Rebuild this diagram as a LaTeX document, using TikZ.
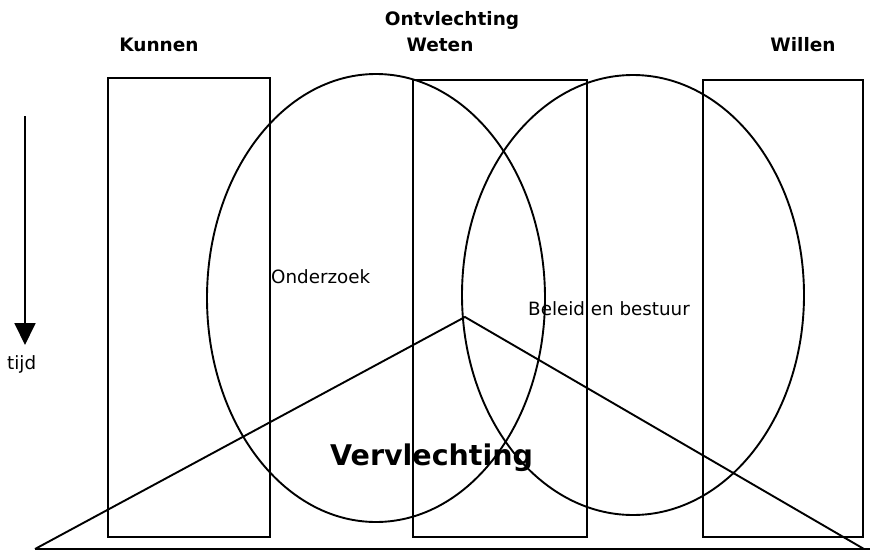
\documentclass[tikz,border=0pt]{standalone}
\usepackage{fontspec}
\setmainfont{DejaVu Sans}
\usetikzlibrary{arrows.meta}
\begin{document}
\begin{tikzpicture}[x=1pt,y=-1pt,
  shape line/.style={draw=black,line width=1.9pt},
  heading/.style={font=\bfseries\fontsize{18.5}{20}\selectfont,inner sep=0pt,anchor=base},
  label/.style={font=\fontsize{18.3}{20}\selectfont,inner sep=0pt,anchor=base west}]
\useasboundingbox (0,0) rectangle (871,552);
% boxes
\draw[shape line] (108,78) rectangle (270,537);
\draw[shape line] (413,80) rectangle (587,537);
\draw[shape line] (703,80) rectangle (863,537);
% ellipses
\draw[shape line] (376,298) ellipse [x radius=169, y radius=224];
\draw[shape line] (633,295) ellipse [x radius=171, y radius=220];
% triangle
\coordinate (apex) at (465,317);
\coordinate (bl) at (35,549);
\coordinate (br) at (864,549);
\coordinate (brr) at (870,549);
\draw[shape line] (bl) -- (apex) -- (br);
\draw[shape line] (bl) -- (brr);
% time arrow
\coordinate (ts) at (25,116);
\coordinate (te) at (25,345);
\draw[line width=1.9pt,-{Triangle[length=22pt,width=21pt]}] (ts) -- (te);
\node[label] (tijd) at (7,369) {tijd};
% headings
\node[heading] (kunnen) at (159,51) {Kunnen};
\node[heading] (ontv) at (452,25) {Ontvlechting};
\node[heading] (weten) at (440,51) {Weten};
\node[heading] (willen) at (803,51) {Willen};
% labels
\node[label] (onderzoek) at (271,283) {Onderzoek};
\node[label] (beleid) at (528,315) {Beleid en bestuur};
\node[font=\bfseries\fontsize{28.5}{32}\selectfont,inner sep=0pt,anchor=base west] (verv) at (330,465) {Vervlechting};
\end{tikzpicture}
\end{document}
